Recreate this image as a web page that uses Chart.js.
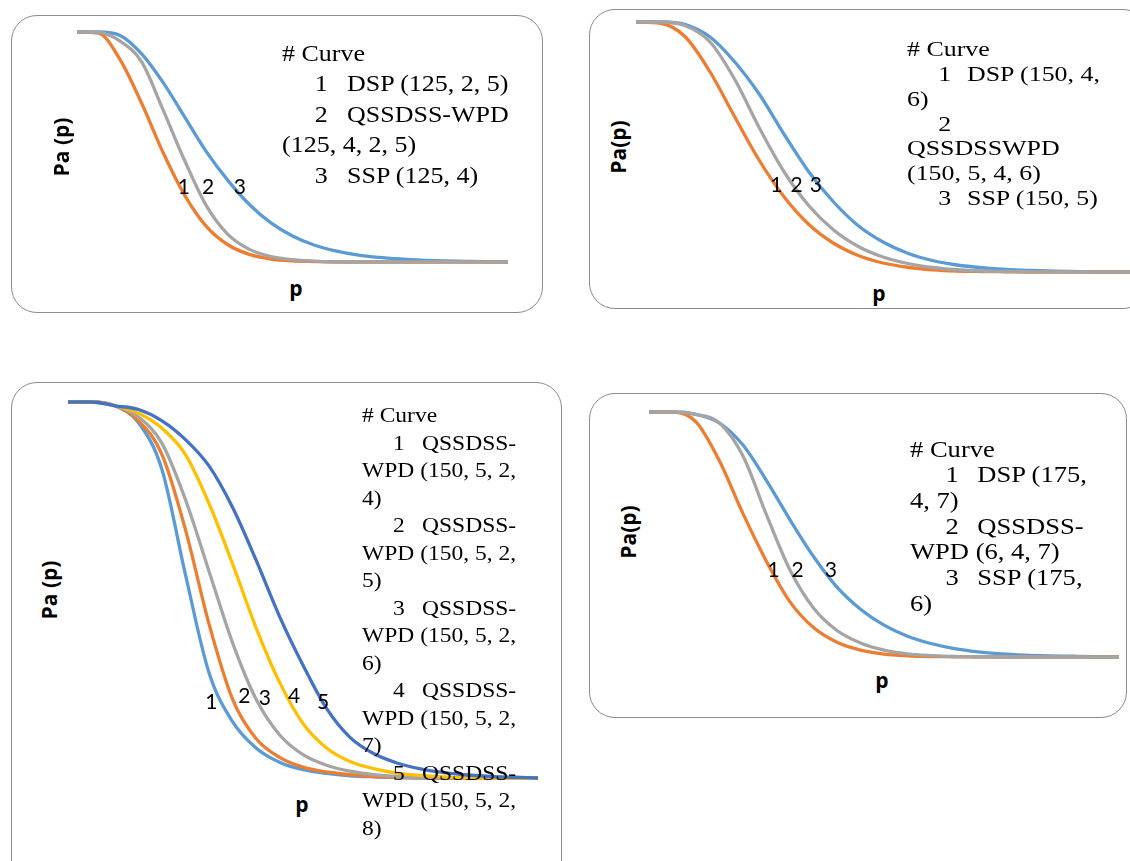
<!DOCTYPE html>
<html>
<head>
<meta charset="utf-8">
<script src="https://cdn.jsdelivr.net/npm/chart.js@4.4.0/dist/chart.umd.min.js"></script>
<style>
  html, body { margin: 0; padding: 0; width: 1130px; height: 861px; overflow: hidden; background: #fff; }
  .box { position: absolute; border: 1.3px solid #8c8c8c; border-radius: 26px; background: #fff; box-sizing: border-box; }
  canvas { position: absolute; }
  .legend { position: absolute; font-family: "Liberation Serif", "Times New Roman", serif; color: #000; transform-origin: 0 0; white-space: pre; }
  .legend .row { position: relative; }
  .legend .row span { position: absolute; top: 0; }
  .axis { position: absolute; font-family: "Open Sans", Lato, sans-serif; font-weight: 700; font-size: 21px; line-height: 1; color: #000; white-space: nowrap; }
  .ylab { transform: translate(-50%, -50%) rotate(-90deg); }
  .xlab { transform: translate(-50%, -50%); }
  .curveLab { position: absolute; font-family: Lato, "Open Sans", sans-serif; font-size: 21px; line-height: 1; color: #000; transform: translate(-50%, -50%); }
</style>
</head>
<body>
<script>
// fraction defective p (no ticks shown on the original axes)
const pValues = [0, 0.005, 0.01, 0.015, 0.02, 0.025, 0.03, 0.035, 0.04, 0.045, 0.05,
                 0.055, 0.06, 0.065, 0.07, 0.075, 0.08, 0.085, 0.09, 0.095, 0.1];

// panel 1 : N = 125
const p1Ssp = [1, 1, 0.985, 0.905, 0.78, 0.63, 0.48, 0.355, 0.25, 0.17, 0.113, 0.074, 0.048, 0.031, 0.02, 0.013, 0.008, 0.005, 0.003, 0.001, 0];
const p1Dsp = [1, 0.995, 0.88, 0.69, 0.475, 0.29, 0.155, 0.075, 0.033, 0.013, 0.005, 0.002, 0, 0, 0, 0, 0, 0, 0, 0, 0];
const p1Qss = [1, 0.998, 0.96, 0.87, 0.66, 0.44, 0.245, 0.12, 0.055, 0.024, 0.01, 0.004, 0.001, 0, 0, 0, 0, 0, 0, 0, 0];

// panel 2 : N = 150
const p2Ssp = [1, 1, 0.99, 0.94, 0.84, 0.71, 0.55, 0.40, 0.28, 0.185, 0.12, 0.075, 0.046, 0.028, 0.017, 0.01, 0.006, 0.003, 0.001, 0, 0];
const p2Dsp = [1, 0.995, 0.94, 0.80, 0.62, 0.445, 0.30, 0.19, 0.115, 0.066, 0.036, 0.019, 0.009, 0.004, 0.002, 0.001, 0, 0, 0, 0, 0];
const p2Qss = [1, 1, 0.985, 0.92, 0.77, 0.575, 0.40, 0.265, 0.168, 0.102, 0.06, 0.034, 0.018, 0.009, 0.004, 0.002, 0.001, 0, 0, 0, 0];

// panel 3 : QSSDSS-WPD (150, 5, 2, k2)
const p3K4 = [1, 1, 0.99, 0.945, 0.82, 0.54, 0.28, 0.15, 0.08, 0.042, 0.022, 0.012, 0.006, 0.003, 0.001, 0, 0, 0, 0, 0, 0];
const p3K5 = [1, 1, 0.99, 0.95, 0.86, 0.66, 0.41, 0.21, 0.105, 0.055, 0.029, 0.016, 0.009, 0.004, 0.002, 0.001, 0, 0, 0, 0, 0];
const p3K6 = [1, 1, 0.99, 0.96, 0.89, 0.74, 0.55, 0.36, 0.21, 0.115, 0.062, 0.034, 0.018, 0.009, 0.004, 0.002, 0.001, 0, 0, 0, 0];
const p3K7 = [1, 1, 0.99, 0.97, 0.93, 0.86, 0.73, 0.57, 0.40, 0.255, 0.145, 0.08, 0.044, 0.025, 0.013, 0.007, 0.003, 0.001, 0, 0, 0];
const p3K8 = [1, 1, 0.99, 0.98, 0.95, 0.90, 0.83, 0.72, 0.58, 0.43, 0.30, 0.185, 0.108, 0.065, 0.04, 0.024, 0.014, 0.008, 0.004, 0.002, 0];

// panel 4 : N = 175
const p4Ssp = [1, 1, 0.99, 0.955, 0.865, 0.72, 0.56, 0.41, 0.285, 0.195, 0.13, 0.085, 0.055, 0.034, 0.021, 0.013, 0.008, 0.005, 0.003, 0.001, 0];
const p4Dsp = [1, 1, 0.96, 0.80, 0.585, 0.39, 0.225, 0.12, 0.06, 0.028, 0.012, 0.005, 0.002, 0.001, 0, 0, 0, 0, 0, 0, 0];
const p4Qss = [1, 1, 0.99, 0.955, 0.82, 0.58, 0.355, 0.20, 0.108, 0.057, 0.028, 0.013, 0.006, 0.002, 0.001, 0, 0, 0, 0, 0, 0];

// legend texts ("\t" splits the curve number from its name)
const legend1 = ['# Curve', '1\tDSP (125, 2, 5)', '2\tQSSDSS-WPD', '(125, 4, 2, 5)', '3\tSSP (125, 4)'];
const legend2 = ['# Curve', '1\tDSP (150, 4,', '6)', '2\t', 'QSSDSSWPD', '(150, 5, 4, 6)', '3\tSSP (150, 5)'];
const legend3 = ['# Curve',
  '1\tQSSDSS-', 'WPD (150, 5, 2,', '4)',
  '2\tQSSDSS-', 'WPD (150, 5, 2,', '5)',
  '3\tQSSDSS-', 'WPD (150, 5, 2,', '6)',
  '4\tQSSDSS-', 'WPD (150, 5, 2,', '7)',
  '5\tQSSDSS-', 'WPD (150, 5, 2,', '8)'];
const legend4 = ['# Curve', '1\tDSP (175,', '4, 7)', '2\tQSSDSS-', 'WPD (6, 4, 7)', '3\tSSP (175,', '6)'];

const curveNums3 = ['1', '2', '3'];
const curveNums5 = ['1', '2', '3', '4', '5'];

const BLUE = '#5B9BD5', ORANGE = '#ED7D31', GRAY = '#A5A5A5', YELLOW = '#FFC000', NAVY = '#4472C4';

const panels = [
  {
    box: { left: 11, top: 15, width: 532, height: 298 },
    plot: { left: 77, right: 508, top: 32, bottom: 262 },
    series: [{ values: p1Ssp, color: BLUE }, { values: p1Dsp, color: ORANGE }, { values: p1Qss, color: GRAY }],
    yTitle: { text: 'Pa (p)', x: 61, y: 147 }, xTitle: { text: 'p', x: 296, y: 288 },
    legend: { lines: legend1, left: 282, baseline: 62, size: 23, lineHeight: 30.5, stretch: 1.13, numIndent: 29, nameIndent: 57.5 },
    nums: curveNums3, numP: [0.0248, 0.0304, 0.0378], numPa: [0.335, 0.335, 0.335]
  },
  {
    box: { left: 589, top: 9, width: 560, height: 300 },
    plot: { left: 636, right: 1130, top: 22, bottom: 272 },
    series: [{ values: p2Ssp, color: BLUE }, { values: p2Dsp, color: ORANGE }, { values: p2Qss, color: GRAY }],
    yTitle: { text: 'Pa(p)', x: 618, y: 147 }, xTitle: { text: 'p', x: 879, y: 293 },
    legend: { lines: legend2, left: 907, baseline: 57, size: 21.6, lineHeight: 24.8, stretch: 1.2, numIndent: 26, nameIndent: 50 },
    nums: curveNums3, numP: [0.0284, 0.0325, 0.0364], numPa: [0.356, 0.356, 0.356]
  },
  {
    box: { left: 11, top: 382, width: 551, height: 520 },
    plot: { left: 68, right: 538, top: 402, bottom: 778 },
    series: [{ values: p3K4, color: BLUE }, { values: p3K5, color: ORANGE }, { values: p3K6, color: GRAY },
             { values: p3K7, color: YELLOW }, { values: p3K8, color: NAVY }],
    yTitle: { text: 'Pa (p)', x: 49, y: 590 }, xTitle: { text: 'p', x: 302, y: 804 },
    legend: { lines: legend3, left: 362, baseline: 423, size: 21, lineHeight: 27.5, stretch: 1.12, numIndent: 27.7, nameIndent: 53.6 },
    nums: curveNums5, numP: [0.0305, 0.0375, 0.0419, 0.0481, 0.0543], numPa: [0.207, 0.223, 0.218, 0.223, 0.207]
  },
  {
    box: { left: 589, top: 393, width: 538, height: 325 },
    plot: { left: 649, right: 1119, top: 412, bottom: 657 },
    series: [{ values: p4Ssp, color: BLUE }, { values: p4Dsp, color: ORANGE }, { values: p4Qss, color: GRAY }],
    yTitle: { text: 'Pa(p)', x: 628, y: 532 }, xTitle: { text: 'p', x: 882, y: 680 },
    legend: { lines: legend4, left: 910, baseline: 457, size: 22.5, lineHeight: 25.7, stretch: 1.18, numIndent: 30, nameIndent: 57 },
    nums: curveNums3, numP: [0.0265, 0.0316, 0.0387], numPa: [0.363, 0.363, 0.363]
  }
];

const PAD = 4;

// puts the curve numbers where the scales say the data point is
const curveNumbers = {
  id: 'curveNumbers',
  afterRender(chart, args, opts) {
    const xs = chart.scales.x, ys = chart.scales.y;
    opts.spans.forEach((span, i) => {
      span.style.left = (opts.offX + xs.getPixelForValue(opts.p[i])) + 'px';
      span.style.top = (opts.offY + ys.getPixelForValue(opts.pa[i])) + 'px';
    });
  }
};

function addText(cls, text, x, y) {
  const el = document.createElement('div');
  el.className = cls;
  el.textContent = text;
  el.style.left = x + 'px';
  el.style.top = y + 'px';
  document.body.appendChild(el);
  return el;
}

function makeLegend(lg) {
  const d = document.createElement('div');
  d.className = 'legend';
  // baseline offset inside a line box of Liberation Serif
  const base = (lg.lineHeight - 1.107 * lg.size) / 2 + 0.891 * lg.size;
  d.style.left = lg.left + 'px';
  d.style.top = (lg.baseline - base) + 'px';
  d.style.fontSize = lg.size + 'px';
  d.style.lineHeight = lg.lineHeight + 'px';
  d.style.transform = `scaleX(${lg.stretch})`;
  lg.lines.forEach(line => {
    const row = document.createElement('div');
    row.className = 'row';
    row.style.height = lg.lineHeight + 'px';
    const parts = line.split('\t');
    if (parts.length === 2) {
      const n = document.createElement('span');
      n.textContent = parts[0];
      n.style.left = lg.numIndent + 'px';
      const t = document.createElement('span');
      t.textContent = parts[1];
      t.style.left = lg.nameIndent + 'px';
      row.appendChild(n);
      row.appendChild(t);
    } else {
      row.textContent = line;
    }
    d.appendChild(row);
  });
  document.body.appendChild(d);
}

panels.forEach(panel => {
  const b = document.createElement('div');
  b.className = 'box';
  b.style.left = panel.box.left + 'px';
  b.style.top = panel.box.top + 'px';
  b.style.width = panel.box.width + 'px';
  b.style.height = panel.box.height + 'px';
  document.body.appendChild(b);

  const w = panel.plot.right - panel.plot.left;
  const h = panel.plot.bottom - panel.plot.top;
  const cv = document.createElement('canvas');
  cv.width = w + 2 * PAD;
  cv.height = h + 2 * PAD;
  cv.style.width = cv.width + 'px';
  cv.style.height = cv.height + 'px';
  cv.style.left = (panel.plot.left - PAD) + 'px';
  cv.style.top = (panel.plot.top - PAD) + 'px';
  document.body.appendChild(cv);

  makeLegend(panel.legend);
  addText('axis ylab', panel.yTitle.text, panel.yTitle.x, panel.yTitle.y);
  addText('axis xlab', panel.xTitle.text, panel.xTitle.x, panel.xTitle.y);
  const spans = panel.nums.map(n => addText('curveLab', n, 0, 0));

  const n = panel.series.length;
  new Chart(cv, {
    type: 'line',
    data: {
      datasets: panel.series.map((s, i) => ({
        data: pValues.map((p, j) => ({ x: p, y: s.values[j] })),
        borderColor: s.color,
        borderWidth: 3.3,
        pointRadius: 0,
        fill: false,
        cubicInterpolationMode: 'monotone',
        clip: false,
        order: n - 1 - i   // later series drawn on top, as in the original
      }))
    },
    options: {
      responsive: false,
      animation: false,
      events: [],
      layout: { padding: PAD },
      plugins: {
        legend: { display: false },
        tooltip: { enabled: false },
        curveNumbers: { spans: spans, p: panel.numP, pa: panel.numPa, offX: panel.plot.left - PAD, offY: panel.plot.top - PAD }
      },
      scales: {
        x: { type: 'linear', min: 0, max: 0.1, display: false },
        y: { min: 0, max: 1, display: false }
      }
    },
    plugins: [curveNumbers]
  });
});
</script>
</body>
</html>
